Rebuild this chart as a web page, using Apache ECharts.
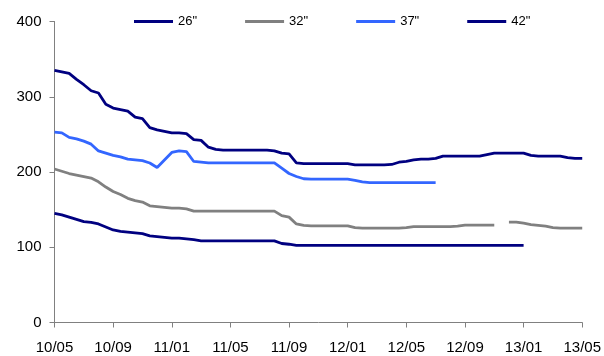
<!DOCTYPE html>
<html>
<head>
<meta charset="utf-8">
<script src="https://cdn.jsdelivr.net/npm/echarts@6/dist/echarts.min.js"></script>
<style>
  html, body { margin: 0; padding: 0; background: #fff; }
  #chart { width: 604px; height: 356px; }
</style>
</head>
<body>
<div id="chart"></div>
<script>
// x: half-month steps starting at 10/05 (index 0) up to 13/05 (index 72)
var tickLabels = ["10/05", "10/09", "11/01", "11/05", "11/09", "12/01", "12/05", "12/09", "13/01", "13/05"];
var seriesNames = ['26"', '32"', '37"', '42"'];

var s26 = [145, 143, 140, 137, 134, 133, 131, 127, 123, 121,
  120, 119, 118, 115, 114, 113, 112, 112, 111, 110,
  108.5, 108.5, 108.5, 108.5, 108.5, 108.5, 108.5, 108.5, 108.5, 108.5,
  108.5, 105, 104, 102.5, 102.5, 102.5, 102.5, 102.5, 102.5, 102.5,
  102.5, 102.5, 102.5, 102.5, 102.5, 102.5, 102.5, 102.5, 102.5, 102.5,
  102.5, 102.5, 102.5, 102.5, 102.5, 102.5, 102.5, 102.5, 102.5, 102.5,
  102.5, 102.5, 102.5, 102.5, 102.5];

var s32 = [204, 201, 198, 196, 194, 192, 187, 180, 174, 170,
  165, 162, 160, 155, 154, 153, 152, 152, 151, 148,
  148, 148, 148, 148, 148, 148, 148, 148, 148, 148,
  148, 142, 140, 131, 129, 128.5, 128.5, 128.5, 128.5, 128.5,
  128.5, 126, 125.5, 125.5, 125.5, 125.5, 125.5, 125.5, 126, 127.5,
  127.5, 127.5, 127.5, 127.5, 127.5, 128, 129.5, 129.5, 129.5, 129.5,
  129.5, null, 133.5, 133.5, 132, 130, 129, 128, 126, 125.5,
  125.5, 125.5, 125.5];

var s37 = [253, 252, 246, 244, 241, 237, 228, 225, 222, 220,
  217, 216, 215, 212, 206, 216, 226, 228, 227, 214,
  213, 212, 212, 212, 212, 212, 212, 212, 212, 212,
  212, 205, 198, 194, 191, 190.5, 190.5, 190.5, 190.5, 190.5,
  190.5, 189, 187, 186, 186, 186, 186, 186, 186, 186,
  186, 186, 186];

var s42 = [335, 333, 331, 323, 316, 308, 305, 290, 285, 283,
  281, 273, 271, 259, 256, 254, 252, 252, 251, 243,
  242, 233, 230, 229, 229, 229, 229, 229, 229, 229,
  228, 225, 224, 212, 211, 211, 211, 211, 211, 211,
  211, 209.5, 209.5, 209.5, 209.5, 209.5, 210, 213, 214, 216,
  217, 217, 218, 221, 221, 221, 221, 221, 221, 223,
  225, 225, 225, 225, 225, 222, 221, 221, 221, 221,
  219, 218, 218];

var colors = ["#000080", "#808080", "#3366FF", "#000080"];

function toPoints(arr) {
  return arr.map(function (v, i) { return [i, v]; });
}

var myChart = echarts.init(document.getElementById("chart"));
var option = {
  backgroundColor: "#fff",
  animation: false,
  color: colors,
  textStyle: { fontFamily: "Liberation Sans, Arial, sans-serif" },
  legend: {
    left: 134,
    top: 15,
    padding: 0,
    icon: "rect",
    itemWidth: 39,
    itemHeight: 3,
    itemGap: 48,
    textStyle: { fontSize: 13, color: "#000" },
    data: seriesNames
  },
  grid: {
    left: 54.5,
    right: 21.5,
    top: 21.5,
    bottom: 33.5
  },
  xAxis: {
    type: "value",
    min: 0,
    max: 72,
    interval: 8,
    splitLine: { show: false },
    axisLine: { lineStyle: { color: "#808080", width: 1 } },
    axisTick: { length: 5, lineStyle: { color: "#808080" } },
    axisLabel: {
      color: "#000",
      fontSize: 15,
      margin: 18,
      formatter: function (v) { return tickLabels[v / 8]; }
    }
  },
  yAxis: {
    type: "value",
    min: 0,
    max: 400,
    interval: 100,
    splitLine: { show: false },
    axisLine: { show: true, lineStyle: { color: "#808080", width: 1 } },
    axisTick: { show: true, length: 5, lineStyle: { color: "#808080" } },
    axisLabel: { color: "#000", fontSize: 15, margin: 13 }
  },
  series: [s26, s32, s37, s42].map(function (arr, k) {
    return {
      name: seriesNames[k],
      type: "line",
      data: toPoints(arr),
      symbol: "none",
      connectNulls: false,
      lineStyle: { width: 2.8, color: colors[k] },
      itemStyle: { color: colors[k] }
    };
  })
};
myChart.setOption(option);
</script>
</body>
</html>
